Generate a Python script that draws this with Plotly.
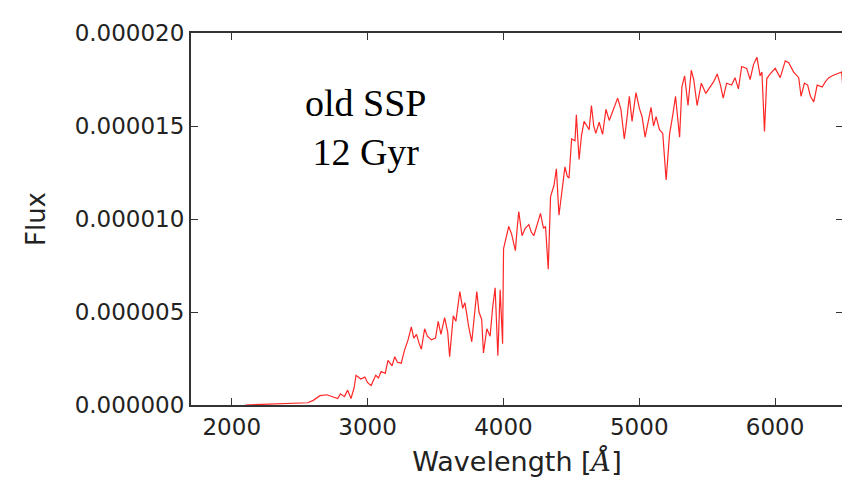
import plotly.graph_objects as go

# spectrum of an old simple stellar population
# wavelength in Angstrom, flux in units of 1e-6
wavelength = [
    2100, 2200, 2300, 2400, 2500, 2560, 2600, 2650, 2700, 2750,
    2780, 2800, 2830, 2853, 2878, 2900, 2915, 2950, 2980, 3000,
    3026, 3060, 3080, 3100, 3130, 3150, 3180, 3200, 3220, 3248,
    3270, 3298, 3322, 3340, 3360, 3380, 3396, 3420, 3440, 3470,
    3500, 3520, 3540, 3567, 3590, 3604, 3620, 3631, 3650, 3679,
    3700, 3716, 3730, 3742, 3767, 3785, 3804, 3820, 3840, 3853,
    3878, 3902, 3920, 3939, 3959, 3976, 3994, 4001, 4020, 4039,
    4060, 4088, 4100, 4113, 4137, 4160, 4187, 4205, 4224, 4250,
    4273, 4295, 4310, 4330, 4347, 4372, 4390, 4409, 4433, 4453,
    4470, 4483, 4502, 4527, 4537, 4557, 4575, 4594, 4615, 4631,
    4648, 4665, 4680, 4705, 4730, 4755, 4779, 4809, 4841, 4865,
    4890, 4907, 4927, 4947, 4976, 5001, 5021, 5043, 5070, 5087,
    5105, 5124, 5149, 5173, 5198, 5223, 5247, 5267, 5297, 5314,
    5334, 5359, 5383, 5401, 5426, 5457, 5490, 5520, 5549, 5574,
    5598, 5618, 5643, 5680, 5705, 5730, 5754, 5791, 5816, 5841,
    5866, 5890, 5903, 5922, 5939, 5964, 6001, 6038, 6075, 6100,
    6137, 6174, 6191, 6216, 6240, 6260, 6285, 6310, 6347, 6372,
    6396, 6421, 6458, 6490, 6500,
]
flux_e6 = [
    0.0, 0.02, 0.05, 0.08, 0.1, 0.12, 0.25, 0.5, 0.55, 0.45,
    0.35, 0.6, 0.45, 0.8, 0.35, 0.9, 1.6, 1.4, 1.5, 1.2,
    1.05, 1.6, 1.45, 1.8, 1.7, 2.4, 2.1, 2.6, 2.3, 2.25,
    2.9, 3.5, 4.2, 3.6, 3.8, 3.3, 3.0, 4.1, 3.7, 3.5,
    3.6, 4.5, 3.8, 4.7, 3.9, 2.6, 3.9, 4.8, 4.5, 6.1,
    5.2, 5.5, 4.9, 4.3, 3.4, 4.8, 6.1, 5.0, 4.6, 2.8,
    4.1, 3.7, 5.2, 6.3, 2.65, 6.2, 3.3, 8.4, 9.0, 9.6,
    9.2, 8.3, 9.4, 10.4, 9.1, 9.5, 9.7, 9.3, 9.1, 9.8,
    10.3, 9.5, 9.6, 7.3, 11.2, 11.8, 12.7, 10.2, 11.7, 12.8,
    12.3, 12.2, 14.3, 14.2, 15.6, 13.2, 14.5, 15.25, 15.0, 14.8,
    16.1, 15.0, 14.6, 15.2, 14.55, 15.9, 15.3, 15.9, 16.5, 15.9,
    14.3, 15.25, 16.6, 15.25, 16.8, 15.95, 15.5, 14.4, 15.3, 16.0,
    15.0, 15.5, 14.8, 14.6, 12.1, 14.55, 15.6, 16.6, 14.4, 17.1,
    17.7, 16.1, 18.0, 17.5, 16.1, 17.3, 16.75, 17.1, 17.4, 17.8,
    17.2, 16.5, 17.3, 17.2, 17.6, 17.0, 18.2, 18.1, 17.5, 18.3,
    18.7, 17.7, 17.9, 14.7, 17.55, 17.8, 18.1, 17.6, 18.5, 18.4,
    17.9, 17.6, 16.6, 17.3, 17.2, 16.6, 16.3, 17.2, 17.1, 17.4,
    17.6, 17.7, 17.8, 17.9, 17.0,
]
flux = [v * 1e-6 for v in flux_e6]

x_ticks = [2000, 3000, 4000, 5000, 6000]
y_ticks = [0.0, 0.000005, 0.000010, 0.000015, 0.000020]

fig = go.Figure(go.Scatter(
    x=wavelength, y=flux, mode="lines",
    line=dict(color="rgba(255,0,0,0.85)", width=1.2),
    showlegend=False,
))

axis_style = dict(
    showline=True, linecolor="#333333", linewidth=2, mirror="ticks",
    ticks="inside", ticklen=7, tickwidth=1, tickcolor="#333333",
    showgrid=False, zeroline=False,
    tickfont=dict(family="DejaVu Sans", size=23, color="#222222"),
)

fig.update_xaxes(
    range=[1700, 6500], tickvals=x_ticks,
    title=dict(text="Wavelength [<span style='font-family:DejaVu Serif'><i>Å</i></span>]",
               font=dict(family="DejaVu Sans", size=27, color="#222222"), standoff=14),
    **axis_style,
)
fig.update_yaxes(
    range=[0, 0.000020], tickvals=y_ticks, tickformat=".6f",
    title=dict(text="Flux", font=dict(family="DejaVu Sans", size=26, color="#222222"),
               standoff=22),
    **axis_style,
)

fig.add_annotation(
    x=0.267, y=0.746, xref="paper", yref="paper", xanchor="center", yanchor="middle",
    text="old SSP<br>12 Gyr", showarrow=False, align="center",
    font=dict(family="Liberation Serif", size=38, color="black"),
)

# the page adds an 8px body margin, so the margins are shifted by that much
fig.update_layout(
    width=850, height=486,
    margin=dict(l=183, r=15, t=19, b=89),
    paper_bgcolor="white", plot_bgcolor="white",
)

fig.write_html("out.html")
